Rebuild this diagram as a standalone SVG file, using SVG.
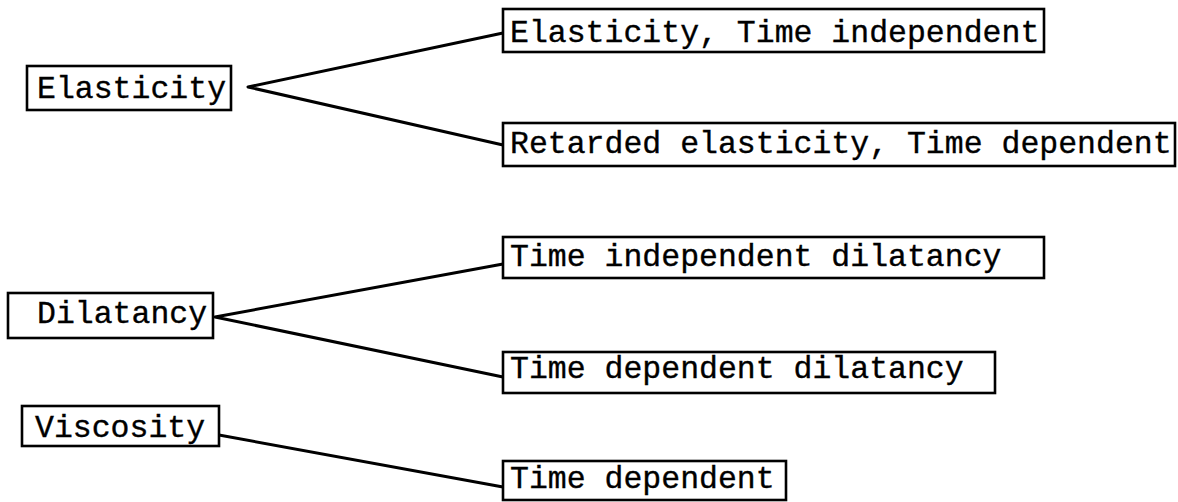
<svg xmlns="http://www.w3.org/2000/svg" width="1178" height="502" viewBox="0 0 1178 502">
  <style>
    .box { fill: #fff; stroke: #000; stroke-width: 2.6; }
    .lbl { font-family: "Liberation Mono", "DejaVu Sans Mono", monospace; font-size: 31.5px; fill: #000; stroke: #000; stroke-width: 0.35; }
    .edge { fill: none; stroke: #000; stroke-width: 3; stroke-linecap: round; stroke-linejoin: round; }
  </style>
  <rect width="1178" height="502" fill="#fff"/>

  <g id="connectors">
    <path class="edge" d="M503 33 L248 87 L503 145"/>
    <path class="edge" d="M503 264 L215 317 L503 377"/>
    <path class="edge" d="M208 433 L503 487"/>
  </g>

  <g id="elasticity">
    <rect class="box" x="27" y="66" width="204" height="44"/>
    <text class="lbl" x="37" y="98">Elasticity</text>
  </g>
  <g id="elasticity-time-independent">
    <rect class="box" x="503" y="9" width="541" height="43"/>
    <text class="lbl" x="510" y="42">Elasticity, Time independent</text>
  </g>
  <g id="retarded-elasticity">
    <rect class="box" x="503" y="123" width="672" height="43"/>
    <text class="lbl" x="510" y="153">Retarded elasticity, Time dependent</text>
  </g>

  <g id="dilatancy">
    <rect class="box" x="8" y="293" width="205" height="45"/>
    <text class="lbl" x="37" y="323">Dilatancy</text>
  </g>
  <g id="time-independent-dilatancy">
    <rect class="box" x="503" y="237" width="541" height="41"/>
    <text class="lbl" x="510" y="266">Time independent dilatancy</text>
  </g>
  <g id="time-dependent-dilatancy">
    <rect class="box" x="503" y="352" width="492" height="41"/>
    <text class="lbl" x="510" y="378">Time dependent dilatancy</text>
  </g>

  <g id="viscosity">
    <rect class="box" x="22" y="406" width="197" height="40"/>
    <text class="lbl" x="35" y="437">Viscosity</text>
  </g>
  <g id="time-dependent">
    <rect class="box" x="503" y="461" width="283" height="39"/>
    <text class="lbl" x="510" y="488">Time dependent</text>
  </g>
</svg>
